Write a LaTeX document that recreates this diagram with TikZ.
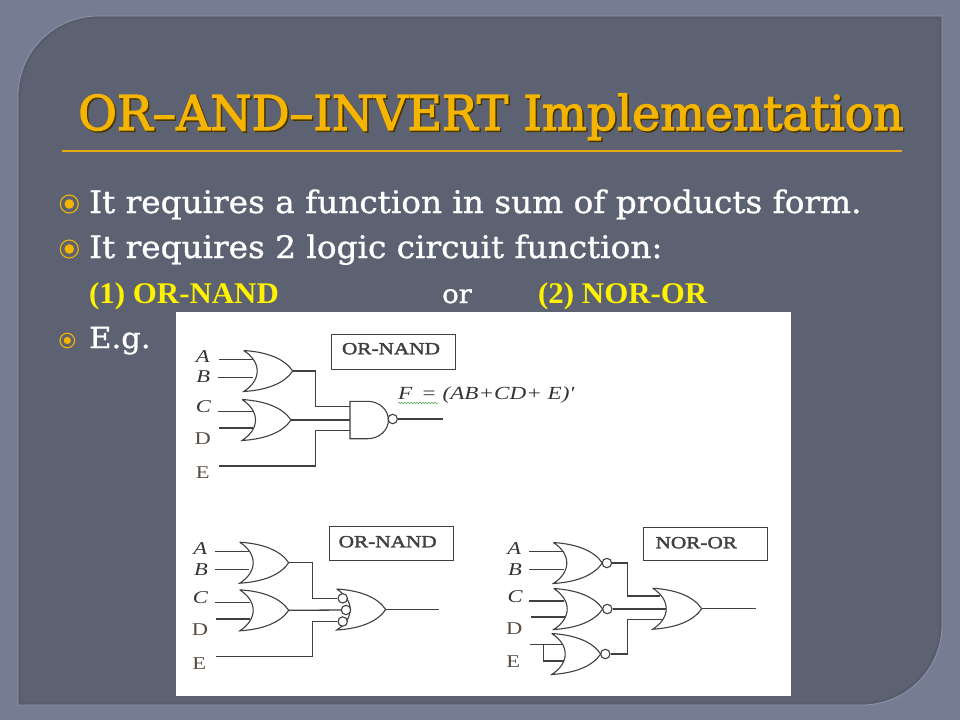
\documentclass[tikz,border=0pt]{standalone}
\usepackage{fontspec}
\usetikzlibrary{calc, decorations.pathmorphing}
\setmainfont{Liberation Serif}
\newfontfamily\slabfont[FakeStretch=1.055, FakeBold=1]{DejaVu Serif}
\newfontfamily\slabhead[FakeStretch=0.985, FakeBold=2.5]{DejaVu Serif}
\newfontfamily\scanfont[FakeStretch=1.25]{Liberation Serif}
\newfontfamily\scanbold[FakeStretch=1.25, FakeBold=2]{Liberation Serif}
\newfontfamily\yellowfont[FakeStretch=1.03]{Liberation Serif}
\definecolor{slidebg}{HTML}{767D93}
\definecolor{panelbg}{HTML}{5C6272}
\definecolor{paneledge}{HTML}{8F96AB}
\definecolor{gold}{HTML}{F5B400}
\definecolor{ruleline}{HTML}{E8A810}
\definecolor{inkline}{HTML}{404040}
\definecolor{inkbrown}{HTML}{5A4C40}
\tikzset{
	gateline/.style={line width=1.1pt, inkline},
	wire/.style={line width=1.3pt, inkline},
	bubble/.style={circle, draw=inkline, line width=1.1pt, fill=white, minimum size=9.4pt, inner sep=0pt},
	tagbox/.style={draw=inkline, line width=1.1pt, fill=white},
	tagtext/.style={font=\scanbold\fontsize{17}{18}\selectfont, text=inkline, inner sep=0pt},
	inlabel/.style={font=\scanfont\fontsize{18}{19}\selectfont\itshape, text=black!80, inner sep=0pt},
	inlabelup/.style={font=\scanfont\fontsize{18}{19}\selectfont, text=inkbrown, inner sep=0pt},
	bodytext/.style={anchor=base west, inner sep=0pt, text=white, font=\slabfont\fontsize{31}{34}\selectfont},
	headtext/.style={anchor=base west, inner sep=0pt, font=\slabhead\fontsize{48}{50}\selectfont},
	yellowtext/.style={anchor=base west, inner sep=0pt, text=yellow, font=\yellowfont\fontsize{30}{32}\selectfont\bfseries},
	ring/.style={draw=gold, line width=1.1pt},
}
\providecommand{\OrGate}[2]{
	\begin{scope}[shift={(#2)}]
		\coordinate(#1) at (0,0);
		\draw[gateline] (-49,-20.5) .. controls (-25,-19) and (-8,-12) .. (0,0)
			.. controls (-8,12) and (-25,19) .. (-49,20.5)
			.. controls (-31,9) and (-31,-9) .. (-49,-20.5);
	\end{scope}
}
\providecommand{\NorGate}[2]{
	\OrGate{#1}{#2}
	\node[bubble] (#1-b) at ($ (#1)+(4.6,0) $) {};
}
\providecommand{\Bullet}[4]{
	\coordinate(#1) at (#2);
	\draw[ring] (#1) circle (#3);
	\fill[gold] (#1) circle (#4);
}
\providecommand{\PanelPath}{(18,96) arc(180:270:80) -- (942,16) -- (942,625) arc(0:90:80) -- (18,705) -- cycle}
\begin{document}
\begin{tikzpicture}[x=1pt, y=-1pt]
	\useasboundingbox (0,0) rectangle (960,720);
	\fill[slidebg] (0,0) rectangle (960,720);

	% panel
	\path[fill=panelbg] \PanelPath;
	\begin{scope}
		\clip \PanelPath;
		\draw[line width=6pt, black, opacity=0.05] \PanelPath;
	\end{scope}
	\draw[line width=0.8pt, paneledge] \PanelPath;

	% title
	\node[headtext, text=black!70!gold] (titleshadow) at (79.5,131.5) {OR\textendash AND\textendash INVERT Implementation};
	\node[headtext, text=gold] (title) at (78,130) {OR\textendash AND\textendash INVERT Implementation};
	\draw[line width=1.1pt, ruleline] (62,151) -- (902,151);

	% text
	\Bullet{b1}{69.3,204}{9pt}{4.8pt}
	\Bullet{b2}{69.3,249}{9pt}{4.8pt}
	\Bullet{b3}{67.3,340.5}{7.3pt}{3.6pt}
	\node[bodytext] (line1) at (89,213) {It requires a function in sum of products form.};
	\node[bodytext] (line2) at (89,258) {It requires 2 logic circuit function:};
	\node[yellowtext] (opt1) at (89,303) {(1) OR-NAND};
	\node[anchor=base west, inner sep=0pt, text=white, font=\slabfont\fontsize{26}{28}\selectfont] (orword) at (442,303) {or};
	\node[yellowtext] (opt2) at (538,303) {(2) NOR-OR};
	\node[bodytext, font=\slabfont\fontsize{29}{30}\selectfont] (eg) at (89,348) {E.g.};

	\fill[white] (176,312) rectangle (791,696);

	% OR-NAND, nand gate
	\node[tagbox, minimum width=124pt, minimum height=35pt] (tag1) at (393.3,351.8) {};
	\node[tagtext] (tag1t) at (391,348.7) {OR-NAND};
	\node[inlabel] (l1A) at (202.7,356.3) {A};
	\node[inlabel] (l1B) at (203.3,376.3) {B};
	\node[inlabel] (l1C) at (203.3,407) {C};
	\node[inlabelup] (l1D) at (202.7,438.7) {D};
	\node[inlabelup] (l1E) at (202.7,473) {E};
	\OrGate{g1}{292.7,371}
	\OrGate{g2}{291,420}
	\coordinate(n1) at (350,401.3);
	\draw[gateline] (n1) -- (367.7,401.3) arc(-90:90:20.7 and 18.7) -- (350,438.7) -- cycle;
	\node[bubble] (n1-b) at (392.7,419) {};
	\coordinate (p1A) at (219.3,359.3);
	\coordinate (q1A) at (253.3,359.3);
	\coordinate (p1B) at (217.7,377.7);
	\coordinate (q1B) at (252.7,377.7);
	\coordinate (p1C) at (217.7,411.3);
	\coordinate (q1C) at (252.7,411.3);
	\coordinate (p1D) at (219.3,428);
	\coordinate (q1D) at (253.3,428);
	\coordinate (p1E) at (219.3,466);
	\coordinate (j1a) at (315.3,406.3);
	\coordinate (j1b) at (315.3,430.3);
	\coordinate (f1) at (442.7,419);
	\draw[wire] (p1A) -- (q1A);
	\draw[wire] (p1B) -- (q1B);
	\draw[wire] (p1C) -- (q1C);
	\draw[wire] (p1D) -- (q1D);
	\draw[wire] (g1) -| (j1a) -- (j1a -| n1);
	\draw[wire] (g2) -- (g2 -| n1);
	\draw[wire] (p1E) -| (j1b) -- (j1b -| n1);
	\draw[wire] (n1-b) -- (f1);
	\node[anchor=base west, inner sep=0pt, text=black!80, font=\scanfont\fontsize{18.5}{19}\selectfont\itshape] (expr) at (398,399) {F\, = (AB+CD+ E)'};
	\draw[green!50!black!70, line width=0.5pt, decorate, decoration={snake, amplitude=0.8pt, segment length=3pt}] (398,403) -- (438,403);

	% OR-NAND, or gate with bubbles
	\node[tagbox, minimum width=124pt, minimum height=34pt] (tag2) at (391.3,543.7) {};
	\node[tagtext] (tag2t) at (387.7,541.7) {OR-NAND};
	\node[inlabel] (l2A) at (200.3,548.3) {A};
	\node[inlabel] (l2B) at (201,569.3) {B};
	\node[inlabel] (l2C) at (200.3,597.3) {C};
	\node[inlabelup] (l2D) at (200,630) {D};
	\node[inlabelup] (l2E) at (199.3,664) {E};
	\OrGate{g3}{288.7,562.7}
	\OrGate{g4}{288.7,610.3}
	\OrGate{g5}{385.7,609.5}
	\coordinate (p2A) at (215.3,551.7);
	\coordinate (q2A) at (250,551.7);
	\coordinate (p2B) at (215.3,569.3);
	\coordinate (q2B) at (249.3,569.3);
	\coordinate (p2C) at (215.3,602.7);
	\coordinate (q2C) at (250,602.7);
	\coordinate (p2D) at (216,619);
	\coordinate (q2D) at (250,619);
	\coordinate (p2E) at (216,656.7);
	\coordinate (j2a) at (312.3,598.3);
	\coordinate (j2b) at (312.3,621.5);
	\coordinate (f2) at (439.3,609.5);
	\draw[wire] (p2A) -- (q2A);
	\draw[wire] (p2B) -- (q2B);
	\draw[wire] (p2C) -- (q2C);
	\draw[wire] (p2D) -- (q2D);
	\node[bubble] (s2a) at (342.7,598.3) {};
	\node[bubble] (s2b) at (346,610) {};
	\node[bubble] (s2c) at (342.7,621.5) {};
	\draw[wire] (g3) -| (j2a) -- (s2a);
	\draw[wire] (g4) -- (s2b);
	\draw[wire] (p2E) -| (j2b) -- (s2c);
	\draw[wire] (g5) -- (f2);

	% NOR-OR
	\node[tagbox, minimum width=124pt, minimum height=33.5pt] (tag3) at (705.3,544) {};
	\node[tagtext] (tag3t) at (696.3,542.7) {NOR-OR};
	\node[inlabel] (l3A) at (514.3,549) {A};
	\node[inlabel] (l3B) at (515,570) {B};
	\node[inlabel] (l3C) at (515,596.7) {C};
	\node[inlabelup] (l3D) at (514.3,628.3) {D};
	\node[inlabelup] (l3E) at (513.3,661.7) {E};
	\NorGate{g6}{602.3,563}
	\NorGate{g7}{602.7,609}
	\NorGate{g8}{600.7,654}
	\OrGate{g9}{701.7,608.7}
	\coordinate (p3A) at (529.3,551.7);
	\coordinate (q3A) at (564,551.7);
	\coordinate (p3B) at (529.3,569.3);
	\coordinate (q3B) at (564,569.3);
	\coordinate (p3C) at (529.3,601);
	\coordinate (q3C) at (564,601);
	\coordinate (p3D) at (530.7,617);
	\coordinate (q3D) at (565,617);
	\coordinate (p3E) at (530,644.3);
	\coordinate (q3E) at (563.3,644.3);
	\coordinate (t3E) at (543.3,644.3);
	\coordinate (r3E) at (564,661);
	\coordinate (j3a) at (627.7,596);
	\coordinate (e3a) at (660,596);
	\coordinate (e3b) at (666,609);
	\coordinate (j3c) at (627.7,619.7);
	\coordinate (e3c) at (661.7,619.7);
	\coordinate (f3) at (755.7,608.7);
	\draw[wire] (p3A) -- (q3A);
	\draw[wire] (p3B) -- (q3B);
	\draw[wire] (p3C) -- (q3C);
	\draw[wire] (p3D) -- (q3D);
	\draw[wire] (p3E) -- (q3E);
	\draw[wire] (t3E) |- (r3E);
	\draw[wire] (g6-b) -| (j3a) -- (e3a);
	\draw[wire] (g7-b) -- (e3b);
	\draw[wire] (g8-b) -| (j3c) -- (e3c);
	\draw[wire] (g9) -- (f3);
\end{tikzpicture}
\end{document}
